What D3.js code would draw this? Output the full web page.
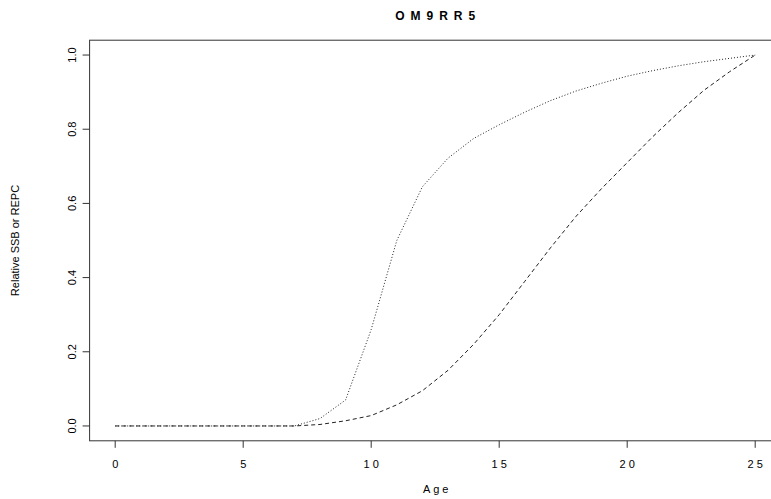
<!DOCTYPE html>
<html>
<head>
<meta charset="utf-8">
<script src="https://cdn.jsdelivr.net/npm/d3@7"></script>
<style>
  body { margin: 0; background: #fff; }
  text { font-family: "Liberation Sans", Arial, sans-serif; fill: #000; }
</style>
</head>
<body>
<script>
// data
var ages = [0,1,2,3,4,5,6,7,8,9,10,11,12,13,14,15,16,17,18,19,20,21,22,23,24,25];
var ssb  = [0,0,0,0,0,0,0,0,0.02,0.07,0.26,0.50,0.645,0.722,0.775,0.812,0.846,0.877,0.903,0.924,0.943,0.958,0.971,0.982,0.991,1.0];
var repc = [0,0,0,0,0,0,0,0,0.004,0.014,0.028,0.057,0.095,0.15,0.22,0.30,0.39,0.48,0.565,0.64,0.71,0.78,0.845,0.905,0.955,1.0];
var xTicks = [0,5,10,15,20,25];
var yTicks = [0,0.2,0.4,0.6,0.8,1.0];
var title = "OM9RR5";

var width = 771, height = 499;
// plot box as in R (4% padding each side); right side runs off the picture
var boxL = 89.6, boxR = 780.8, boxT = 40.2, boxB = 440.8;

var svg = d3.select("body").append("svg").attr("width", width).attr("height", height);

var xScale = d3.scaleLinear().domain([-1, 26]).range([boxL, boxR]);
var yScale = d3.scaleLinear().domain([-0.04, 1.04]).range([boxB, boxT]);

// box
svg.append("rect")
  .attr("x", boxL).attr("y", boxT)
  .attr("width", boxR - boxL).attr("height", boxB - boxT)
  .attr("fill", "none").attr("stroke", "#333").attr("stroke-width", 1);

// x axis
var xAxis = svg.append("g").attr("transform", "translate(0," + boxB + ")");
xAxis.selectAll("line").data(xTicks).enter().append("line")
  .attr("x1", function(d) { return xScale(d); }).attr("x2", function(d) { return xScale(d); })
  .attr("y1", 0).attr("y2", 7).attr("stroke", "#333");
xAxis.selectAll("text").data(xTicks).enter().append("text")
  .attr("x", function(d) { return xScale(d) + 1.5; })
  .attr("y", 27)
  .attr("text-anchor", "middle")
  .style("font-size", "11px").style("letter-spacing", "3px")
  .text(function(d) { return d; });

// y axis
var yAxis = svg.append("g").attr("transform", "translate(" + boxL + ",0)");
yAxis.selectAll("line").data(yTicks).enter().append("line")
  .attr("x1", -7).attr("x2", 0)
  .attr("y1", function(d) { return yScale(d); }).attr("y2", function(d) { return yScale(d); })
  .attr("stroke", "#333");
yAxis.selectAll("text").data(yTicks).enter().append("text")
  .attr("transform", function(d) { return "translate(-14," + yScale(d) + ") rotate(-90)"; })
  .attr("text-anchor", "middle")
  .style("font-size", "11px")
  .text(function(d) { return d.toFixed(1); });

// lines
var line = d3.line().x(function(d) { return xScale(d[0]); }).y(function(d) { return yScale(d[1]); });

svg.append("path")
  .datum(d3.zip(ages, ssb))
  .attr("d", line)
  .attr("fill", "none").attr("stroke", "#222").attr("stroke-width", 1)
  .attr("stroke-dasharray", "1,2");

svg.append("path")
  .datum(d3.zip(ages, repc))
  .attr("d", line)
  .attr("fill", "none").attr("stroke", "#222").attr("stroke-width", 1)
  .attr("stroke-dasharray", "4,3");

// labels
svg.append("text")
  .attr("x", (boxL + boxR) / 2 + 3).attr("y", 20)
  .attr("text-anchor", "middle")
  .style("font-size", "12px").style("font-weight", "bold").style("letter-spacing", "6px")
  .text(title);

svg.append("text")
  .attr("x", (boxL + boxR) / 2 + 2).attr("y", 493)
  .attr("text-anchor", "middle")
  .style("font-size", "11px").style("letter-spacing", "3px")
  .text("Age");

svg.append("text")
  .attr("transform", "translate(19," + (boxT + boxB) / 2 + ") rotate(-90)")
  .attr("text-anchor", "middle")
  .style("font-size", "11px")
  .text("Relative SSB or REPC");
</script>
</body>
</html>
